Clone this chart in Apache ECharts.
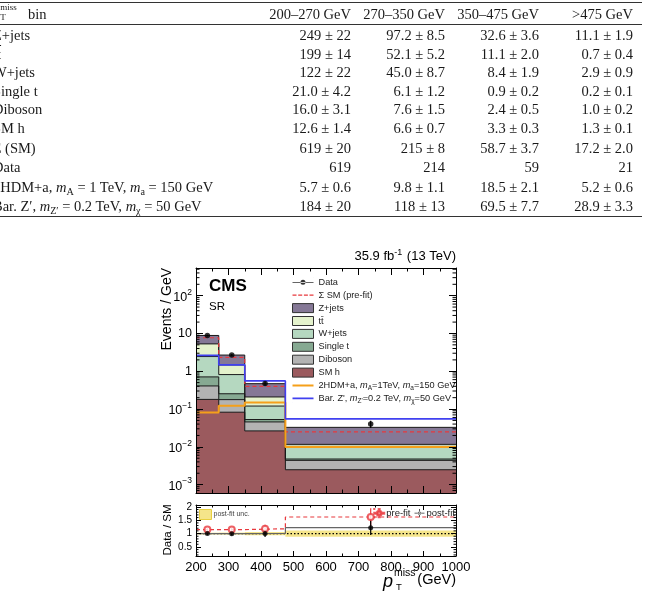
<!DOCTYPE html>
<html>
<head>
<meta charset="utf-8">
<script src="https://cdn.jsdelivr.net/npm/echarts@6/dist/echarts.min.js"></script>
<style>
html,body{margin:0;padding:0;background:#fff;}
#page{position:relative;width:657px;height:592px;overflow:hidden;}
#chart{position:absolute;left:0;top:0;width:657px;height:592px;}
#tbl{position:absolute;left:0;top:0;width:657px;height:240px;font-family:'Liberation Serif','DejaVu Serif',serif;font-size:14.5px;color:#1a1a1a;pointer-events:none;}
.row{position:absolute;left:0;width:657px;height:18px;line-height:18px;white-space:nowrap;}
.lab{position:absolute;left:-7px;top:0;}
.num{position:absolute;top:0;text-align:right;}
.rule{position:absolute;left:0;width:642px;background:#333;}
.sb{font-size:70%;position:relative;top:3px;}
.ov{text-decoration:overline;}
</style>
</head>
<body>
<div id="page">
<div id="chart"></div>
<div id="tbl"></div>
</div>
<script>
// bins
var binEdges = [200, 270, 350, 475, 1000];
var binLabels = ['200–270 GeV', '270–350 GeV', '350–475 GeV', '>475 GeV'];

// table (events, post-fit)
var zjets = ['249', '97.2', '32.6', '11.1'];
var zjetsErr = ['22', '8.5', '3.6', '1.9'];
var ttbar = ['199', '52.1', '11.1', '0.7'];
var ttbarErr = ['14', '5.2', '2.0', '0.4'];
var wjets = ['122', '45.0', '8.4', '2.9'];
var wjetsErr = ['22', '8.7', '1.9', '0.9'];
var singlet = ['21.0', '6.1', '0.9', '0.2'];
var singletErr = ['4.2', '1.2', '0.2', '0.1'];
var diboson = ['16.0', '7.6', '2.4', '1.0'];
var dibosonErr = ['3.1', '1.5', '0.5', '0.2'];
var smh = ['12.6', '6.6', '3.3', '1.3'];
var smhErr = ['1.4', '0.7', '0.3', '0.1'];
var totalSM = ['619', '215', '58.7', '17.2'];
var totalSMErr = ['20', '8', '3.7', '2.0'];
var dataCounts = ['619', '214', '59', '21'];
var sig2hdm = ['5.7', '9.8', '18.5', '5.2'];
var sig2hdmErr = ['0.6', '1.1', '2.1', '0.6'];
var sigZp = ['184', '118', '69.5', '28.9'];
var sigZpErr = ['20', '13', '7.7', '3.3'];

var prefitSM = [7.7, 2.33, 0.40, 0.025];          // events / GeV, pre-fit
var prefitRatio = [1.15, 1.15, 1.18, 1.62];
var prefitRatioErr = [0.05, 0.08, 0.15, 0.33];
var postfitRatio = [1.0, 0.995, 1.005, 1.22];
var postfitRatioErr = [0.04, 0.07, 0.13, 0.27];

// ---------- table ----------
var colRight = [351, 445, 539, 633];
var tbl = document.getElementById('tbl');
function addRule(y, h) {
  var d = document.createElement('div');
  d.className = 'rule';
  d.style.top = y + 'px';
  d.style.height = h + 'px';
  tbl.appendChild(d);
}
function addRow(y, label, cells) {
  var r = document.createElement('div');
  r.className = 'row';
  r.style.top = (y - 9) + 'px';
  var l = document.createElement('span');
  l.className = 'lab';
  l.innerHTML = label;
  r.appendChild(l);
  for (var i = 0; i < cells.length; i++) {
    var c = document.createElement('span');
    c.className = 'num';
    c.style.right = (657 - colRight[i]) + 'px';
    c.innerHTML = cells[i];
    r.appendChild(c);
  }
  tbl.appendChild(r);
}
function pm(v, e) {
  return v.map(function (x, i) { return x + ' ± ' + e[i]; });
}
addRule(2, 1.3);
addRow(14, '<i>p</i><span style="display:inline-block;position:relative;width:24px;height:10px;"><span style="position:absolute;left:0;top:-6px;font-size:9px;line-height:9px">miss</span><span style="position:absolute;left:0;top:4px;font-size:9px;line-height:9px">T</span></span> bin',
  binLabels.map(function (s) { return s.replace('>', '&gt;'); }));
addRule(24, 0.8);
addRow(35, 'Z+jets', pm(zjets, zjetsErr));
addRow(53.5, 't<span class="ov">t</span>', pm(ttbar, ttbarErr));
addRow(72, 'W+jets', pm(wjets, wjetsErr));
addRow(90.5, 'Single t', pm(singlet, singletErr));
addRow(109, 'Diboson', pm(diboson, dibosonErr));
addRow(127.5, 'SM h', pm(smh, smhErr));
addRow(148, 'Σ (SM)', pm(totalSM, totalSMErr));
addRow(166.5, 'Data', dataCounts);
addRow(187, '2HDM+a, <i>m</i><span class="sb">A</span> = 1 TeV, <i>m</i><span class="sb">a</span> = 150 GeV', pm(sig2hdm, sig2hdmErr));
addRow(205.5, 'Bar. Z′, <i>m</i><span class="sb">Z′</span> = 0.2 TeV, <i>m</i><span class="sb">χ</span> = 50 GeV', pm(sigZp, sigZpErr));
addRule(216, 1.3);

// ---------- chart ----------
function perGeV(arr) {
  return arr.map(function (v, i) { return parseFloat(v) / (binEdges[i + 1] - binEdges[i]); });
}
function stepPoints(vals) {
  var pts = vals.map(function (v, i) { return [binEdges[i], v]; });
  pts.push([binEdges[binEdges.length - 1], vals[vals.length - 1]]);
  return pts;
}
var binCenters = binEdges.slice(0, 4).map(function (e, i) { return (e + binEdges[i + 1]) / 2; });

var font = 'Liberation Sans';
// stack order, bottom to top
var bkg = [
  { name: 'SM h', vals: smh, color: '#9b5a5e' },
  { name: 'Diboson', vals: diboson, color: '#b3b3b3' },
  { name: 'Single t', vals: singlet, color: '#86a992' },
  { name: 'W+jets', vals: wjets, color: '#b5d8c0' },
  { name: 't\u0074\u0304', vals: ttbar, color: '#e4f2cc' },
  { name: 'Z+jets', vals: zjets, color: '#857896' }
];
// cumulative sums, each drawn down to the axis; top of the stack first
var running = [0, 0, 0, 0];
bkg.forEach(function (b) {
  var pg = perGeV(b.vals);
  running = running.map(function (r, i) { return r + pg[i]; });
  b.cum = running.slice();
});

var series = [];
bkg.slice().reverse().forEach(function (b) {
  series.push({
    name: b.name, type: 'line', xAxisIndex: 0, yAxisIndex: 0,
    step: 'end', symbol: 'none',
    data: stepPoints(b.cum),
    lineStyle: { color: '#1a1a1a', width: 1 },
    itemStyle: { color: b.color },
    areaStyle: { color: b.color, opacity: 1, origin: 'start' },
    z: 2
  });
});
series.push({
  name: 'prefitSM', type: 'line', xAxisIndex: 0, yAxisIndex: 0, step: 'end', symbol: 'none',
  data: stepPoints(prefitSM),
  itemStyle: { color: '#e8383d' },
  lineStyle: { color: '#e8383d', width: 1.2, type: [4, 3] }, z: 3
});
series.push({
  name: '2HDM+a', type: 'line', xAxisIndex: 0, yAxisIndex: 0, step: 'end', symbol: 'none',
  data: stepPoints(perGeV(sig2hdm)),
  itemStyle: { color: '#f5a01a' },
  lineStyle: { color: '#f5a01a', width: 2 }, z: 4
});
series.push({
  name: 'BarZp', type: 'line', xAxisIndex: 0, yAxisIndex: 0, step: 'end', symbol: 'none',
  data: stepPoints(perGeV(sigZp)),
  itemStyle: { color: '#4040f0' },
  lineStyle: { color: '#4040f0', width: 1.6 }, z: 4
});

// data points + stat errors
var dataPerGeV = perGeV(dataCounts);
var dataErrs = dataCounts.map(function (n, i) {
  var w = binEdges[i + 1] - binEdges[i], v = parseFloat(n), s = Math.sqrt(v);
  return [binCenters[i], (v - s) / w, (v + s) / w];
});
function errBar(color, width) {
  return function (params, api) {
    var p0 = api.coord([api.value(0), api.value(1)]);
    var p1 = api.coord([api.value(0), api.value(2)]);
    return { type: 'line', shape: { x1: p0[0], y1: p0[1], x2: p1[0], y2: p1[1] }, style: { stroke: color, lineWidth: width } };
  };
}
series.push({
  name: 'dataErr', type: 'custom', xAxisIndex: 0, yAxisIndex: 0,
  renderItem: errBar('#000', 1.2), data: dataErrs, z: 6, silent: true
});
series.push({
  name: 'Data', type: 'scatter', xAxisIndex: 0, yAxisIndex: 0,
  symbol: 'circle', symbolSize: 5.5,
  data: binCenters.map(function (x, i) { return [x, dataPerGeV[i]]; }),
  itemStyle: { color: '#000' }, z: 7
});

// log minor ticks (2..9 per decade) on both sides
var logMinor = [];
for (var k = -4; k <= 2; k++) {
  for (var m = 2; m <= 9; m++) {
    var v = m * Math.pow(10, k);
    if (v > 6.05e-4 && v < 540) logMinor.push([v]);
  }
}
function sideTicks(xMin, xMax, len) {
  return function (params, api) {
    var a = api.coord([xMin, api.value(0)]);
    var b = api.coord([xMax, api.value(0)]);
    return {
      type: 'group', children: [
        { type: 'line', shape: { x1: a[0], y1: a[1], x2: a[0] + len, y2: a[1] }, style: { stroke: '#000', lineWidth: 1 } },
        { type: 'line', shape: { x1: b[0], y1: b[1], x2: b[0] - len, y2: b[1] }, style: { stroke: '#000', lineWidth: 1 } }
      ]
    };
  };
}
series.push({
  name: 'logMinor', type: 'custom', xAxisIndex: 0, yAxisIndex: 0,
  renderItem: sideTicks(200, 1000, 3.5), data: logMinor, z: 11, silent: true, clip: false
});

// ---------- ratio ----------
var relUnc = totalSM.map(function (v, i) { return parseFloat(totalSMErr[i]) / parseFloat(v); });
series.push({
  name: 'post-fit unc.', type: 'custom', xAxisIndex: 2, yAxisIndex: 2,
  itemStyle: { color: '#f5e58a' },
  renderItem: function (params, api) {
    var a = api.coord([api.value(0), 1 + api.value(2)]);
    var b = api.coord([api.value(1), 1 - api.value(2)]);
    return { type: 'rect', shape: { x: a[0], y: a[1], width: b[0] - a[0], height: b[1] - a[1] }, style: { fill: '#f5e58a' } };
  },
  data: relUnc.map(function (e, i) { return [binEdges[i], binEdges[i + 1], e]; }), z: 1, silent: true
});
series.push({
  name: 'refLine', type: 'line', xAxisIndex: 2, yAxisIndex: 2, symbol: 'none',
  data: [[200, 1], [1000, 1]],
  lineStyle: { color: '#000', width: 1.2, type: [1.5, 2] }, z: 2
});
series.push({
  name: 'postStep', type: 'line', xAxisIndex: 2, yAxisIndex: 2, step: 'end', symbol: 'none',
  data: stepPoints(postfitRatio),
  lineStyle: { color: '#666', width: 1.2 }, z: 3
});
series.push({
  name: 'preStep', type: 'line', xAxisIndex: 2, yAxisIndex: 2, step: 'end', symbol: 'none',
  data: stepPoints(prefitRatio),
  lineStyle: { color: '#e8383d', width: 1.2, type: [4, 3] }, z: 3
});
series.push({
  name: 'preErr', type: 'custom', xAxisIndex: 2, yAxisIndex: 2,
  renderItem: errBar('#e8383d', 1.2),
  data: prefitRatio.map(function (r, i) { return [binCenters[i], r - prefitRatioErr[i], r + prefitRatioErr[i]]; }),
  z: 4, silent: true
});
series.push({
  name: 'postErr', type: 'custom', xAxisIndex: 2, yAxisIndex: 2,
  renderItem: errBar('#000', 1.2),
  data: postfitRatio.map(function (r, i) { return [binCenters[i], r - postfitRatioErr[i], r + postfitRatioErr[i]]; }),
  z: 4, silent: true
});
series.push({
  name: 'pre-fit', type: 'scatter', xAxisIndex: 2, yAxisIndex: 2,
  symbol: 'emptyCircle', symbolSize: 6,
  data: binCenters.map(function (x, i) { return [x, prefitRatio[i]]; }),
  itemStyle: { color: '#e8383d', borderColor: '#e8383d', borderWidth: 1.2 }, z: 5
});
series.push({
  name: 'post-fit', type: 'scatter', xAxisIndex: 2, yAxisIndex: 2,
  symbol: 'circle', symbolSize: 5,
  data: binCenters.map(function (x, i) { return [x, postfitRatio[i]]; }),
  itemStyle: { color: '#000' }, z: 6
});
var ratioMinor = [];
[0.2, 0.3, 0.4, 0.6, 0.7, 0.8, 0.9, 1.1, 1.2, 1.3, 1.4, 1.6, 1.7, 1.8, 1.9].forEach(function (v) { ratioMinor.push([v]); });
series.push({
  name: 'ratioMinor', type: 'custom', xAxisIndex: 2, yAxisIndex: 2,
  renderItem: sideTicks(200, 1000, 2.5), data: ratioMinor, z: 11, silent: true, clip: false
});

// ---------- axes ----------
function xAx(grid, pos, labels, tickLen) {
  return {
    gridIndex: grid, type: 'value', position: pos, min: 200, max: 1000, interval: 100, z: 10,
    axisLine: { show: true, lineStyle: { color: '#000', width: 1 } },
    axisTick: { show: true, inside: true, length: tickLen, lineStyle: { color: '#000' } },
    minorTick: { show: true, splitNumber: 2, length: tickLen / 2, lineStyle: { color: '#000' } },
    axisLabel: { show: labels, color: '#000', fontFamily: font, fontSize: 13, margin: 5,
      formatter: function (v) { return String(v); } },
    splitLine: { show: false }
  };
}
function logLabel(v) {
  var k = Math.round(Math.log(v) / Math.LN10);
  if (k === 0) return '{b|1}';
  if (k === 1) return '{b|10}';
  return '{b|10}{s|' + (k < 0 ? '\u2212' + (-k) : k) + '}';
}
var yAxes = [
  {
    gridIndex: 0, type: 'log', logBase: 10, min: 6e-4, max: 540, z: 10,
    axisLine: { show: true, lineStyle: { color: '#000' } },
    axisTick: { show: true, inside: true, length: 7, lineStyle: { color: '#000' } },
    splitLine: { show: false },
    axisLabel: {
      showMinLabel: false, showMaxLabel: false, margin: 4, formatter: logLabel,
      rich: {
        b: { fontFamily: font, fontSize: 12.5, color: '#000', verticalAlign: 'bottom' },
        s: { fontFamily: font, fontSize: 8.5, color: '#000', verticalAlign: 'top', padding: [0, 0, 7, 0] }
      }
    }
  },
  {
    gridIndex: 0, type: 'log', logBase: 10, min: 6e-4, max: 540, position: 'right', z: 10,
    axisLine: { show: true, lineStyle: { color: '#000' } },
    axisTick: { show: true, inside: true, length: 7, lineStyle: { color: '#000' } },
    splitLine: { show: false }, axisLabel: { show: false }
  },
  {
    gridIndex: 1, type: 'value', min: 0.16, max: 2.07, splitNumber: 4, z: 10,
    axisLine: { show: true, lineStyle: { color: '#000' } },
    axisTick: { show: true, inside: true, length: 5, lineStyle: { color: '#000' } },
    splitLine: { show: false },
    axisLabel: { showMinLabel: false, showMaxLabel: false, margin: 4, color: '#000', fontFamily: font, fontSize: 10 }
  },
  {
    gridIndex: 1, type: 'value', min: 0.16, max: 2.07, splitNumber: 4, position: 'right', z: 10,
    axisLine: { show: true, lineStyle: { color: '#000' } },
    axisTick: { show: true, inside: true, length: 5, lineStyle: { color: '#000' } },
    splitLine: { show: false }, axisLabel: { show: false }
  }
];

var legendNames = {
  'prefitSM': 'Σ SM (pre-fit)',
  '2HDM+a': '2HDM+a, {i|m}{sub|A}=1TeV, {i|m}{sub|a}=150 GeV',
  'BarZp': 'Bar. Z\', {i|m}{sub|Z\'}=0.2 TeV, {i|m}{sub|χ}=50 GeV'
};
var box = 'M0,0h0.1v0.1h-0.1Z M0,9h0.1v-0.1h-0.1Z M20.9,0h0.1v0.1h-0.1Z ';
var dataIcon = 'path://' + box + 'M0,4.1L21,4.1L21,4.9L0,4.9Z M8,4.5a2.5,2.5 0 1,0 5,0a2.5,2.5 0 1,0 -5,0Z';
var dashIcon = 'path://' + box + 'M0,3.9h4v1.2h-4Z M5.7,3.9h4v1.2h-4Z M11.4,3.9h4v1.2h-4Z M17,3.9h4v1.2h-4Z';
var thickIcon = 'path://' + box + 'M0,3.5h21v2h-21Z';
var thinIcon = 'path://' + box + 'M0,3.7h21v1.6h-21Z';
var legendData = [
  { name: 'Data', icon: dataIcon, itemStyle: { color: '#000' } },
  { name: 'prefitSM', icon: dashIcon, itemStyle: { color: '#e8383d' } }
];
bkg.slice().reverse().forEach(function (b) {
  legendData.push({ name: b.name, icon: 'rect', itemStyle: { color: b.color, borderColor: '#333', borderWidth: 1 } });
});
legendData.push(
  { name: '2HDM+a', icon: thickIcon, itemStyle: { color: '#f5a01a' } },
  { name: 'BarZp', icon: thinIcon, itemStyle: { color: '#4040f0' } }
);

var preIcon = 'path://M0,0h0.1v0.1h-0.1Z M0,10h0.1v-0.1h-0.1Z M0,4.4h3v1.2h-3Z M9,4.4h3v1.2h-3Z M5.4,0h1.2v2.5h-1.2Z M5.4,7.5h1.2v2.5h-1.2Z ' +
  'M3,5a3,3 0 1,0 6,0a3,3 0 1,0 -6,0Z M4.3,5a1.7,1.7 0 1,1 3.4,0a1.7,1.7 0 1,1 -3.4,0Z';
var postIcon = 'path://M0,0h0.1v0.1h-0.1Z M0,10h0.1v-0.1h-0.1Z M0,4.5h12v1h-12Z M5.5,0h1v10h-1Z M4,5a2,2 0 1,0 4,0a2,2 0 1,0 -4,0Z';

var chart = echarts.init(document.getElementById('chart'), null, { renderer: 'canvas' });
chart.setOption({
  animation: false,
  backgroundColor: 'transparent',
  grid: [
    { left: 196, top: 268, width: 260, height: 225, show: false },
    { left: 196, top: 505, width: 260, height: 51, show: false }
  ],
  xAxis: [xAx(0, 'bottom', false, 7), xAx(0, 'top', false, 7), xAx(1, 'bottom', true, 5), xAx(1, 'top', false, 5)],
  yAxis: yAxes,
  legend: [
    {
      data: legendData, orient: 'vertical', left: 292, top: 276.3, padding: 0,
      itemWidth: 21, itemHeight: 9, itemGap: 0.9, selectedMode: false,
      formatter: function (n) { return legendNames[n] || n; },
      textStyle: {
        fontFamily: font, fontSize: 9.2, color: '#222', lineHeight: 12,
        rich: {
          i: { fontFamily: font, fontSize: 9.2, fontStyle: 'italic', color: '#222', lineHeight: 12 },
          sub: { fontFamily: font, fontSize: 6.5, color: '#222', lineHeight: 7, padding: [5, 0, 0, 0] }
        }
      }
    },
    {
      data: [
        { name: 'pre-fit', icon: preIcon, itemStyle: { color: '#e8383d' } },
        { name: 'post-fit', icon: postIcon, itemStyle: { color: '#000' } }
      ],
      orient: 'horizontal', right: 202, top: 508, padding: 0, itemWidth: 10, itemHeight: 9, itemGap: 4, selectedMode: false,
      textStyle: { fontFamily: font, fontSize: 9.5, color: '#222', padding: [0, 0, 0, -3] }
    },
    {
      data: [{ name: 'post-fit unc.', icon: 'rect', itemStyle: { color: '#f5e58a', borderColor: '#e8cf40', borderWidth: 1 } }],
      left: 199, top: 509, padding: 0, itemWidth: 12, itemHeight: 10, itemGap: 2, selectedMode: false,
      textStyle: { fontFamily: font, fontSize: 7, color: '#444', padding: [0, 0, 0, -3] }
    }
  ],
  graphic: { elements: [
    { type: 'text', z: 100, x: 456, y: 256, style: { text: '35.9 fb{s|-1} (13 TeV)', align: 'right', verticalAlign: 'middle', fontFamily: font, fontSize: 13, fill: '#000',
      rich: { s: { fontFamily: font, fontSize: 9, fill: '#000', verticalAlign: 'top', padding: [0, 1, 7, 0] } } } },
    { type: 'text', z: 100, x: 209, y: 286, style: { text: 'CMS', verticalAlign: 'middle', fontFamily: font, fontWeight: 'bold', fontSize: 17, fill: '#000' } },
    { type: 'text', z: 100, x: 209, y: 307, style: { text: 'SR', verticalAlign: 'middle', fontFamily: font, fontSize: 11.5, fill: '#000' } },
    { type: 'text', z: 100, x: 167, y: 268, rotation: Math.PI / 2, style: { text: 'Events / GeV', align: 'right', verticalAlign: 'middle', fontFamily: font, fontSize: 14, fill: '#000' } },
    { type: 'text', z: 100, x: 168, y: 530, rotation: Math.PI / 2, style: { text: 'Data / SM', align: 'center', verticalAlign: 'middle', fontFamily: font, fontSize: 11.5, fill: '#000' } },
    { type: 'text', z: 100, x: 456, y: 580, style: { text: '(GeV)', align: 'right', verticalAlign: 'middle', fontFamily: font, fontSize: 14.5, fill: '#000' } },
    { type: 'text', z: 100, x: 394, y: 573, style: { text: 'miss', align: 'left', verticalAlign: 'middle', fontFamily: font, fontSize: 10.5, fill: '#000' } },
    { type: 'text', z: 100, x: 396, y: 587, style: { text: 'T', align: 'left', verticalAlign: 'middle', fontFamily: font, fontSize: 9.5, fill: '#000' } },
    { type: 'text', z: 100, x: 393, y: 582, style: { text: 'p', align: 'right', verticalAlign: 'middle', fontFamily: font, fontStyle: 'italic', fontSize: 18, fill: '#000' } }
  ] },
  series: series
});
</script>
</body>
</html>
